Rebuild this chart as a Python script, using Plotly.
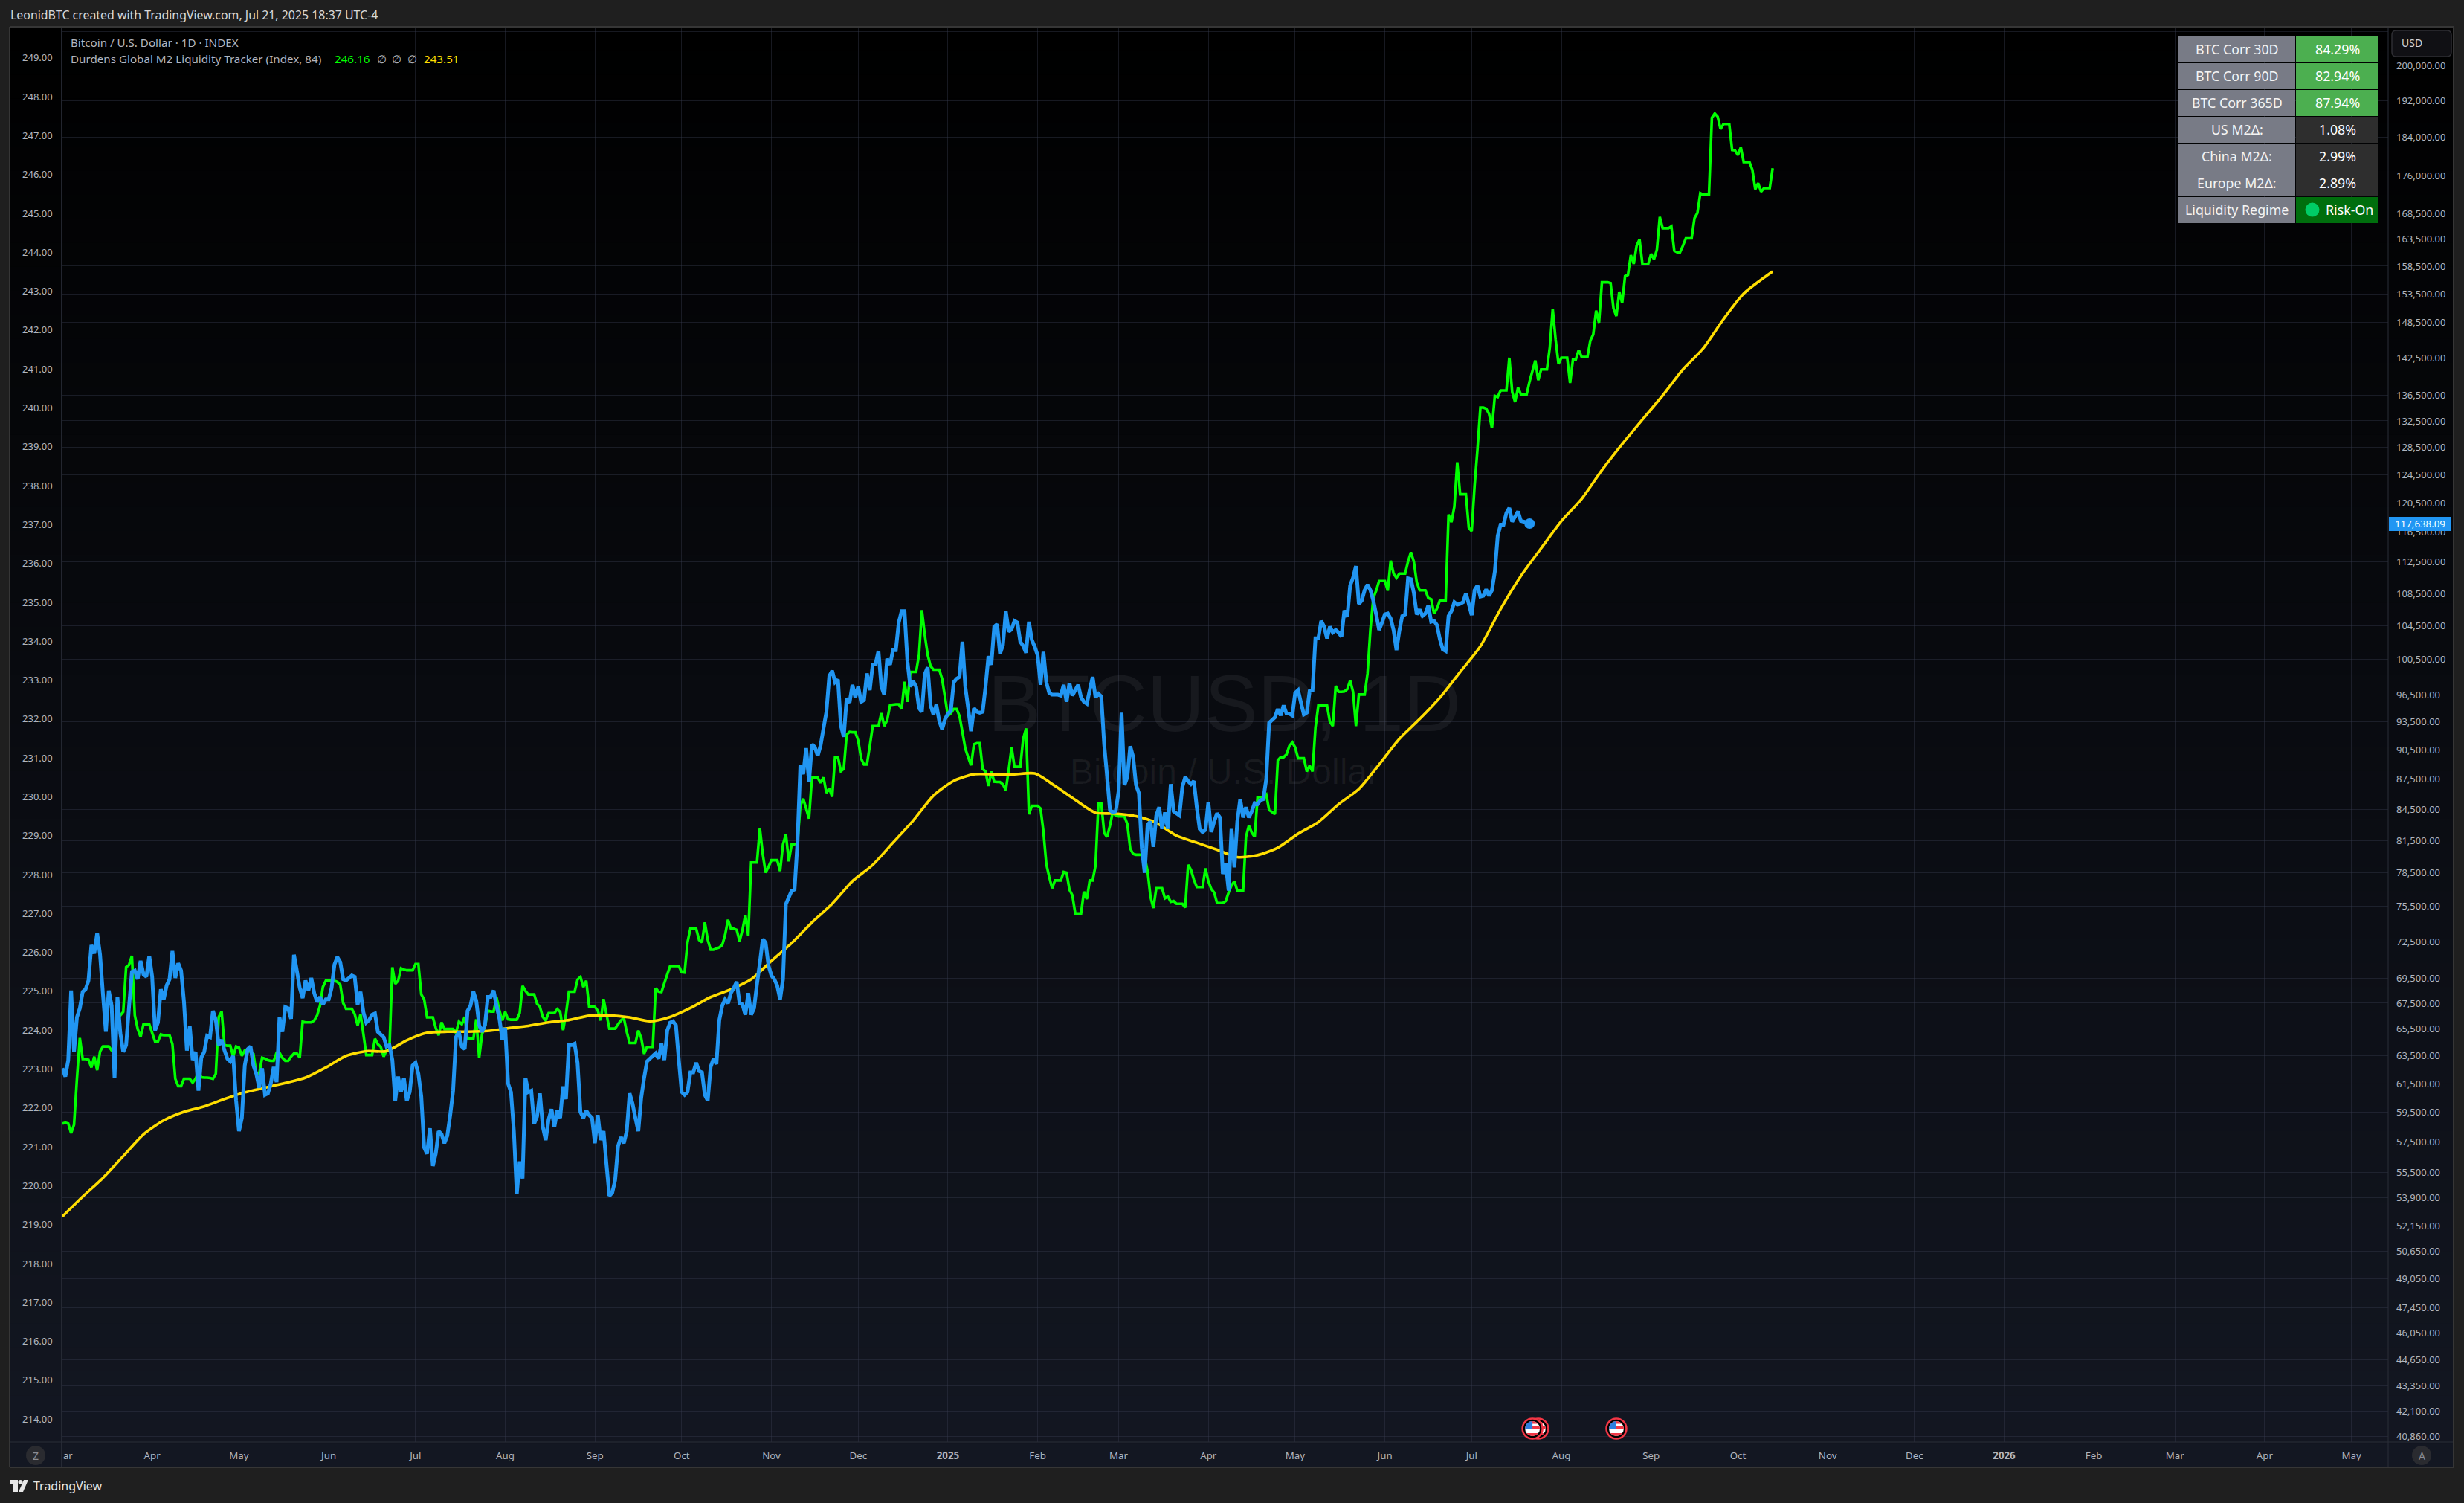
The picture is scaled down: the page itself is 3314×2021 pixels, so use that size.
import base64
import numpy as np
import pandas as pd
import plotly.graph_objects as go

W, H = 3314, 2021
FONT = "Noto Sans"

# ---------- data ----------
start_date = "2024-03-01"

btc_usd_thousands = [
 62.6,62.0,63.2,68.5,63.8,66.4,67.1,68.4,68.6,69.3,
 72.2,71.5,73.2,71.4,68.2,65.3,68.5,67.3,61.9,68.0,
 65.2,63.8,64.3,67.2,70.0,70.1,69.4,70.9,69.8,69.6,
 71.3,69.6,65.4,66.0,68.6,67.8,68.9,69.4,71.7,69.5,
 70.7,70.1,67.6,63.9,65.7,63.2,63.8,61.0,63.4,63.8,
 65.0,64.9,66.9,66.2,64.3,64.7,63.9,63.3,63.1,63.5,
 60.3,58.2,59.1,62.8,64.0,64.2,62.8,62.2,61.2,62.6,
 60.7,60.8,61.5,62.7,61.6,66.4,65.3,67.2,67.1,66.3,
 71.4,70.1,68.7,67.9,69.3,68.5,69.5,68.3,67.6,68.0,
 67.4,67.8,67.8,68.7,70.6,71.2,70.8,69.4,69.3,69.5,
 69.7,69.6,67.4,68.4,66.8,66.0,66.2,66.6,66.7,65.3,
 65.1,64.9,64.2,64.3,63.2,60.3,62.0,60.9,61.9,60.3,
 60.9,62.8,63.0,62.2,60.6,57.1,56.7,58.4,55.9,56.7,
 58.2,58.0,57.4,57.9,59.3,61.0,64.9,65.3,64.2,64.0,
 66.9,67.3,68.4,67.7,65.8,65.3,65.8,68.0,68.0,68.5,
 67.3,66.3,64.7,65.6,61.5,60.9,58.2,54.1,56.2,55.1,
 61.9,60.9,61.0,58.7,59.2,60.8,58.5,57.6,59.0,59.7,
 58.5,59.6,59.1,61.3,60.4,64.3,64.3,64.4,63.0,59.5,
 59.1,59.6,59.3,59.1,57.4,59.3,57.6,58.2,56.0,54.0,
 54.2,55.0,57.2,57.8,57.4,58.2,60.8,60.1,59.1,58.2,
 60.5,61.9,63.1,63.3,63.5,63.7,63.3,64.4,63.2,65.4,
 66.0,66.1,65.8,63.2,60.9,60.7,60.9,62.3,62.3,63.0,
 62.4,62.3,60.7,60.3,62.7,63.3,62.9,66.2,67.3,67.8,
 67.5,68.3,68.7,69.2,67.5,67.4,66.6,68.3,66.6,67.1,
 69.0,70.7,72.7,72.4,70.5,69.7,69.4,68.9,67.8,69.4,
 75.7,76.3,76.9,77.0,81.3,88.9,88.0,90.7,87.2,91.1,
 90.8,89.9,91.0,92.8,94.6,98.6,99.2,97.9,98.2,93.1,
 91.9,96.1,95.6,97.6,96.2,97.4,95.7,95.9,98.9,97.0,
 99.9,100.0,101.5,97.4,96.5,100.6,99.9,101.6,101.6,104.9,
 106.3,106.3,100.3,97.4,98.0,97.4,95.0,94.6,98.8,99.6,
 95.3,94.3,95.4,93.6,92.7,93.8,94.4,94.7,97.9,98.3,
 98.5,102.6,97.4,95.0,92.5,95.0,94.6,94.5,94.6,97.4,
 100.9,99.9,104.4,104.7,101.2,102.2,106.3,103.8,104.1,105.1,
 104.9,102.6,102.1,101.3,105.0,102.8,102.0,101.0,97.6,101.4,
 97.9,96.7,96.5,96.5,96.5,96.4,97.6,95.7,97.8,96.4,
 97.0,97.6,96.2,95.7,95.5,97.0,98.5,96.2,96.6,96.3,
 91.1,87.8,84.4,84.2,84.3,86.3,94.5,86.9,87.7,90.9,
 89.8,86.9,86.1,80.8,78.5,83.0,83.3,80.9,83.9,84.7,
 82.6,84.2,82.6,87.0,84.3,84.1,83.9,86.7,87.7,87.3,
 87.0,87.3,84.7,82.6,82.3,82.5,85.2,82.3,83.3,84.1,
 83.7,78.4,79.4,76.9,82.6,79.0,83.3,85.5,83.7,84.7,
 83.7,84.3,85.1,85.0,85.4,85.5,87.5,93.4,93.7,94.0,
 94.9,94.2,95.3,94.4,94.4,94.2,96.7,97.0,95.6,94.3,
 94.5,96.9,97.0,103.0,103.0,105.1,104.4,103.0,104.4,103.7,
 104.0,103.7,103.2,106.4,105.6,109.5,110.5,112.0,107.2,107.6,
 108.9,109.6,108.9,107.6,105.9,104.0,104.9,105.9,106.0,105.4,
 104.0,101.6,103.9,105.7,105.9,110.4,110.3,108.6,105.9,106.5,
 105.7,106.0,107.0,105.0,105.1,104.6,102.9,101.7,101.5,105.7,
 106.3,107.4,107.1,107.2,107.4,108.5,107.2,105.8,108.9,109.5,
 108.1,108.2,109.0,108.2,108.9,111.3,116.0,117.5,117.5,119.1,
 119.8,117.9,118.6,119.3,118.0,117.9,117.8,117.638,
]

m2_index = [
 221.60,221.62,221.60,221.35,221.57,222.75,223.80,223.26,223.26,223.24,
 223.04,223.32,222.97,223.45,223.58,223.58,223.58,223.48,223.48,224.34,
 224.38,224.47,225.62,225.68,225.91,224.38,224.03,223.83,224.15,224.15,
 224.15,223.93,223.71,223.71,223.89,223.87,223.87,223.87,223.64,222.75,
 222.56,222.56,222.75,222.75,222.75,222.65,222.75,222.94,222.79,222.78,
 222.78,222.77,222.75,222.88,224.34,224.48,223.61,223.60,223.60,223.32,
 223.58,223.55,223.34,223.48,223.46,223.45,223.39,222.88,222.88,223.29,
 223.27,223.23,223.21,223.21,223.42,223.42,223.29,223.21,223.21,223.32,
 223.40,223.40,223.29,224.22,224.20,224.20,224.20,224.25,224.38,224.63,
 225.11,225.27,225.27,225.27,225.27,225.24,225.17,224.70,224.55,224.55,
 224.55,224.41,224.12,224.41,223.90,223.36,223.36,223.36,223.78,223.64,
 223.57,223.32,223.48,223.52,225.62,225.19,225.27,225.59,225.56,225.54,
 225.54,225.54,225.70,225.70,224.92,224.79,224.33,224.33,224.33,224.06,
 223.87,224.20,224.03,224.03,224.03,224.03,223.93,224.22,224.15,224.34,
 223.78,223.78,223.78,224.28,223.29,223.90,224.09,224.50,224.48,224.48,
 224.85,224.50,224.25,224.47,224.28,224.27,224.27,224.27,224.44,225.14,
 225.01,224.92,224.92,224.92,224.68,224.60,224.34,224.25,224.44,224.44,
 224.44,224.54,224.47,224.00,224.41,224.99,224.99,224.99,225.30,225.37,
 225.11,225.27,224.61,224.61,224.60,224.50,224.25,224.80,224.41,224.04,
 224.04,224.04,224.15,224.25,224.31,223.96,223.67,223.67,223.67,223.99,
 223.80,223.39,223.57,223.57,223.57,225.08,224.99,224.98,225.21,225.43,
 225.65,225.65,225.65,225.65,225.49,225.48,226.26,226.61,226.61,226.61,
 226.32,226.26,226.77,226.32,226.07,226.07,226.10,226.13,226.19,226.45,
 226.84,226.61,226.61,226.58,226.29,226.58,226.96,226.42,228.31,228.31,
 228.31,229.19,228.53,228.05,228.20,228.37,228.37,228.37,228.09,228.78,
 229.04,228.34,228.78,228.78,228.82,229.77,229.95,229.70,229.44,230.50,
 230.49,230.49,230.36,230.50,230.10,230.21,230.00,231.02,231.02,230.66,
 230.72,231.60,231.67,231.66,231.66,231.45,230.98,230.83,230.83,231.31,
 231.82,231.82,231.82,232.15,231.82,231.97,232.36,232.37,232.38,232.38,
 232.26,232.96,232.44,233.21,233.21,233.21,233.65,234.80,234.16,233.65,
 233.36,233.27,233.27,233.27,233.03,232.55,232.08,232.15,232.26,232.26,
 232.08,231.67,231.24,231.02,230.81,231.35,231.38,231.38,230.72,230.65,
 230.28,230.65,230.39,230.38,230.38,230.32,230.17,230.69,231.27,230.77,
 230.77,230.77,231.49,231.76,229.55,229.77,229.77,229.77,229.70,229.11,
 228.27,227.94,227.65,227.85,227.85,227.85,228.07,228.05,227.61,227.47,
 227.00,227.00,227.00,227.56,227.37,227.85,227.85,228.23,229.83,229.83,
 229.07,228.97,229.26,229.62,229.51,229.50,229.50,229.49,229.30,228.67,
 228.53,228.51,228.51,228.51,228.45,228.09,227.43,227.14,227.65,227.65,
 227.65,227.39,227.44,227.30,227.32,227.25,227.25,227.25,227.15,228.25,
 228.12,227.87,227.68,227.68,227.68,228.16,227.83,227.63,227.54,227.27,
 227.27,227.27,227.32,227.54,227.72,227.83,227.59,227.59,227.59,228.97,
 229.26,229.08,228.97,229.99,229.99,230.00,230.06,229.66,229.61,229.55,
 230.94,231.02,231.02,231.09,231.31,231.40,231.27,230.99,230.99,230.99,
 230.65,230.80,230.65,231.78,232.35,232.35,232.35,232.35,231.93,231.82,
 232.85,232.70,232.70,232.71,232.77,232.99,232.70,231.82,232.63,232.63,
 232.63,233.17,234.31,235.11,235.30,235.55,235.55,235.55,235.30,236.07,
 235.74,235.63,235.74,235.74,235.74,236.05,236.29,236.05,235.52,235.31,
 235.31,235.31,235.11,235.08,234.71,234.84,235.05,235.05,235.05,237.26,
 237.06,237.46,238.60,237.78,237.78,237.78,236.92,236.83,238.00,238.94,
 240.01,240.01,239.98,239.85,239.48,240.31,240.28,240.45,240.45,240.45,
 241.29,240.41,240.15,240.52,240.35,240.35,240.35,240.68,240.95,241.22,
 240.71,240.99,240.99,240.99,241.56,242.54,241.76,241.13,241.29,241.29,
 241.29,240.64,241.25,241.25,241.49,241.31,241.31,241.31,241.73,241.89,
 242.50,242.19,243.23,243.23,243.23,243.21,242.56,242.36,242.99,242.70,
 243.39,243.42,243.93,243.70,244.17,244.33,243.70,243.70,243.70,243.96,
 243.82,244.07,244.91,244.62,244.62,244.62,244.67,244.04,244.00,244.00,
 244.17,244.36,244.36,244.36,244.88,245.01,245.52,245.48,245.48,245.48,
 247.46,247.57,247.49,247.17,247.30,247.30,247.30,246.63,246.62,246.50,
 246.70,246.32,246.32,246.32,246.12,245.62,245.78,245.56,245.65,245.65,
 245.65,246.16,
]

# read once a week; last reading is the final bar
m2_ma_weekly = [
 219.21,219.72,220.20,220.76,221.32,221.68,221.90,222.04,222.23,222.40,
 222.52,222.64,222.78,223.04,223.34,223.46,223.46,223.74,223.93,223.96,
 223.96,223.98,224.05,224.11,224.20,224.26,224.37,224.38,224.33,224.23,
 224.34,224.57,224.85,225.05,225.31,225.78,226.24,226.77,227.25,227.83,
 228.25,228.82,229.39,230.03,230.41,230.58,230.58,230.58,230.60,230.28,
 229.92,229.59,229.57,229.50,229.33,229.00,228.82,228.64,228.45,228.50,
 228.69,229.05,229.35,229.81,230.20,230.83,231.49,232.00,232.55,233.21,
 233.87,234.83,235.68,236.39,237.09,237.66,238.40,239.07,239.70,240.32,
 240.99,241.53,242.28,242.94,243.35,243.51,
]
m2_ma_last_date = "2025-10-13"

left_ticks = list(range(214, 250))
right_ticks = [208000, 200000, 192000, 184000, 176000, 168500, 163500, 158500, 153500, 148500,
               142500, 136500, 132500, 128500, 124500, 120500, 116500, 112500, 108500, 104500,
               100500, 96500, 93500, 90500, 87500, 84500, 81500, 78500, 75500, 72500, 69500,
               67500, 65500, 63500, 61500, 59500, 57500, 55500, 53900, 52150, 50650, 49050,
               47450, 46050, 44650, 43350, 42100, 40860]
month_ticks = ["2024-04-01", "2024-05-01", "2024-06-01", "2024-07-01", "2024-08-01", "2024-09-01",
               "2024-10-01", "2024-11-01", "2024-12-01", "2025-01-01", "2025-02-01", "2025-03-01",
               "2025-04-01", "2025-05-01", "2025-06-01", "2025-07-01", "2025-08-01", "2025-09-01",
               "2025-10-01", "2025-11-01", "2025-12-01", "2026-01-01", "2026-02-01", "2026-03-01",
               "2026-04-01", "2026-05-01"]
month_labels = ["Apr", "May", "Jun", "Jul", "Aug", "Sep", "Oct", "Nov", "Dec", "<b>2025</b>", "Feb", "Mar",
                "Apr", "May", "Jun", "Jul", "Aug", "Sep", "Oct", "Nov", "Dec", "<b>2026</b>", "Feb", "Mar",
                "Apr", "May"]

table_labels = ["BTC Corr 30D", "BTC Corr 90D", "BTC Corr 365D", "US M2Δ:", "China M2Δ:", "Europe M2Δ:", "Liquidity Regime"]
table_values = ["84.29%", "82.94%", "87.94%", "1.08%", "2.99%", "2.89%", "Risk-On"]
table_fills = ["#4caf50", "#4caf50", "#4caf50", "#2e2e2e", "#2e2e2e", "#2e2e2e", "#006e0d"]

event_dates = ["2025-07-24", "2025-07-22", "2025-08-20"]
last_price_text = "117,638.09"
watermark_date = "2025-04-06 14:00"
watermark_rows = ["BTCUSD, 1D", "Bitcoin / U.S. Dollar"]
watermark_values = [232.21, 230.56]

# ---------- helpers for page layout (pixels -> paper) ----------
def px(x): return x / W
def py(y): return 1 - y / H

L_AXIS, R_AXIS, TOP, BOTTOM, FRAME_L, FRAME_R, FRAME_B = 82.7, 3212, 36, 1939, 13, 3300, 1973

def rect(x0, y0, x1, y1, fill, line=None, layer="above", w=1):
    return dict(type="rect", xref="paper", yref="paper", x0=px(x0), x1=px(x1), y0=py(y1), y1=py(y0),
                fillcolor=fill, line=dict(color=line or "rgba(0,0,0,0)", width=w if line else 0), layer=layer)

def seg(x0, y0, x1, y1, color="#2a2e39", w=1):
    return dict(type="line", xref="paper", yref="paper", x0=px(x0), x1=px(x1), y0=py(y0), y1=py(y1),
                line=dict(color=color, width=w), layer="above")

def circ(cx, cy, r, fill):
    return dict(type="circle", xref="paper", yref="paper", x0=px(cx - r), x1=px(cx + r), y0=py(cy + r), y1=py(cy - r),
                fillcolor=fill, line=dict(width=0), layer="above")

def txt(x, y, s, color="#b2b5be", size=13, anchor="left", family=FONT):
    return dict(xref="paper", yref="paper", x=px(x), y=py(y), text=s, showarrow=False, xanchor=anchor,
                yanchor="middle", font=dict(family=family, size=size, color=color), borderpad=0)

# ---------- traces ----------
btc_dates = pd.date_range(start_date, periods=len(btc_usd_thousands), freq="D")
m2_dates = pd.date_range(start_date, periods=len(m2_index), freq="D")
ma_dates = list(pd.date_range(start_date, periods=len(m2_ma_weekly) - 1, freq="7D")) + [pd.Timestamp(m2_ma_last_date)]
btc_usd = [v * 1000 for v in btc_usd_thousands]

fig = go.Figure()
fig.add_trace(go.Scatter(x=[watermark_date] * 2, y=watermark_values, text=watermark_rows, mode="text",
                         textposition="middle center", yaxis="y",
                         textfont=dict(family="Liberation Sans", size=[107, 48], color="rgba(255,255,255,0.06)")))
fig.add_trace(go.Scatter(x=m2_dates, y=m2_index, mode="lines", yaxis="y",
                         line=dict(color="#00ff00", width=3.6, simplify=False)))
fig.add_trace(go.Scatter(x=ma_dates, y=m2_ma_weekly, mode="lines", yaxis="y",
                         line=dict(color="#ffdd00", width=3.6, shape="spline", smoothing=0.7, simplify=False)))
fig.add_trace(go.Scatter(x=btc_dates, y=btc_usd, mode="lines", yaxis="y2",
                         line=dict(color="#2196f3", width=5, simplify=False)))
fig.add_trace(go.Scatter(x=[btc_dates[-1]], y=[btc_usd[-1]], mode="markers", yaxis="y2",
                         marker=dict(color="#2196f3", size=14, line=dict(width=0))))

# ---------- background ----------
shapes = []
bands = 60
for i in range(bands):
    t = (i + 0.5) / bands
    c = "rgb(%d,%d,%d)" % (round(0x13 * t), round(0x17 * t), round(0x22 * t))
    y0 = TOP + (FRAME_B - TOP) * i / bands
    y1 = TOP + (FRAME_B - TOP) * (i + 1) / bands + 0.5
    shapes.append(rect(FRAME_L, y0, FRAME_R, y1, c, layer="below"))

# frame and axis separators
shapes += [
    seg(L_AXIS, TOP, L_AXIS, FRAME_B), seg(R_AXIS, TOP, R_AXIS, FRAME_B),
    seg(FRAME_L, BOTTOM, FRAME_R, BOTTOM),
    seg(FRAME_L, TOP, FRAME_R, TOP, "#363636", 2), seg(FRAME_L, FRAME_B, FRAME_R, FRAME_B, "#363636", 2),
    seg(FRAME_L, TOP, FRAME_L, FRAME_B, "#363636", 2), seg(FRAME_R, TOP, FRAME_R, FRAME_B, "#363636", 2),
]

annotations = [
    txt(13, 20, "LeonidBTC created with TradingView.com, Jul 21, 2025 18:37 UTC-4", "#d8d8d8", 15.9),
    txt(94, 57, "Bitcoin / U.S. Dollar · 1D · INDEX", "#b2b5be", 15.2),
    txt(94, 79, "Durdens Global M2 Liquidity Tracker (Index, 84)", "#b2b5be", 15.2),
    txt(449, 79, "246.16", "#00ff00", 15.2),
    txt(513, 79, "∅", "#b2b5be", 15.2, "center"),
    txt(533, 79, "∅", "#b2b5be", 15.2, "center"),
    txt(554, 79, "∅", "#b2b5be", 15.2, "center"),
    txt(569, 79, "243.51", "#ffdd00", 15.2),
    txt(84, 1957, "ar", "#b2b5be", 13),
    txt(48, 1957, "Z", "#8a8d96", 14, "center"),
    txt(3257, 1957, "A", "#8a8d96", 14, "center"),
    txt(44, 1998, "TradingView", "#e6e6e6", 16),
]
shapes += [circ(48, 1957, 13, "#2a2b30"), circ(3257, 1957, 13, "#2a2b30")]

# table
row_top, row_h = 49, 36
for i, (a, b, f) in enumerate(zip(table_labels, table_values, table_fills)):
    y0 = row_top + i * row_h
    shapes.append(rect(2930, y0, 3087, y0 + row_h - 1, "#787b86"))
    shapes.append(rect(3088, y0, 3199, y0 + row_h - 1, f))
    annotations.append(txt(3008.5, y0 + 17, a, "#f4f4f4", 17.8, "center"))
    if b == "Risk-On":
        shapes.append(circ(3110, y0 + 17, 9.5, "#00cc66"))
        annotations.append(txt(3160, y0 + 17, b, "#ffffff", 17.8, "center"))
    else:
        annotations.append(txt(3143.5, y0 + 17, b, "#ffffff", 17.8, "center"))

# USD button
r = 6
x0, x1, y0, y1 = px(3217), px(3297), py(76), py(41)
rx, ry = r / W, r / H
shapes.append(dict(type="path", xref="paper", yref="paper", layer="above", fillcolor="#101014",
                   line=dict(color="#2e2e33", width=1.5),
                   path=f"M {x0+rx},{y0} L {x1-rx},{y0} Q {x1},{y0} {x1},{y0+ry} L {x1},{y1-ry} Q {x1},{y1} {x1-rx},{y1} "
                        f"L {x0+rx},{y1} Q {x0},{y1} {x0},{y1-ry} L {x0},{y0+ry} Q {x0},{y0} {x0+rx},{y0} Z"))
annotations.append(txt(3229, 58, "USD", "#d1d4dc", 14))

# last price tag
shapes.append(rect(3213, 695, 3296, 714, "#2196f3"))
annotations.append(txt(3254.5, 704, last_price_text, "#ffffff", 13.3, "center"))

# TradingView logo mark
lx, ly = 13, 1990
def P(x, y): return f"{px(lx + x)},{py(ly + y)}"
shapes.append(dict(type="path", xref="paper", yref="paper", layer="above", fillcolor="#e6e6e6", line=dict(width=0),
                   path=f"M {P(0,0)} L {P(11,0)} L {P(11,16)} L {P(5,16)} L {P(5,6)} L {P(0,6)} Z "
                        f"M {P(19,0)} L {P(25,0)} L {P(18,16)} L {P(12,16)} Z"))
shapes.append(circ(lx + 14.5, ly + 3, 3, "#e6e6e6"))

# economic-event flag icons
flag_svg = ('<svg xmlns="http://www.w3.org/2000/svg" viewBox="0 0 30 30"><defs><clipPath id="c"><circle cx="15" cy="15" r="10"/></clipPath></defs>'
            '<circle cx="15" cy="15" r="13.5" fill="#000" stroke="#f23645" stroke-width="2.5"/>'
            '<g clip-path="url(#c)"><rect x="0" y="0" width="30" height="30" fill="#fff"/>'
            '<rect x="0" y="5" width="30" height="3.5" fill="#f23645"/><rect x="0" y="12" width="30" height="3.5" fill="#f23645"/>'
            '<rect x="0" y="21" width="30" height="5" fill="#f23645"/><rect x="0" y="0" width="15" height="16" fill="#2d7fe0"/></g></svg>')
flag_src = "data:image/svg+xml;base64," + base64.b64encode(flag_svg.encode()).decode()
images = [dict(source=flag_src, xref="x", yref="paper", x=d, y=py(1921), sizex=30 * 86400000 / 3.892, sizey=30 / H,
               xanchor="center", yanchor="middle", sizing="stretch", layer="above") for d in event_dates]

# ---------- layout ----------
GRID = "rgba(54,60,78,0.42)"
TICK = "#b2b5be"
fig.update_layout(
    width=W, height=H, autosize=False, margin=dict(l=0, r=0, t=0, b=0, pad=0),
    paper_bgcolor="#1f1f1f", plot_bgcolor="rgba(0,0,0,0)", showlegend=False, hovermode=False,
    shapes=shapes, annotations=annotations, images=images,
    font=dict(family=FONT, size=13, color=TICK),
    xaxis=dict(domain=[px(L_AXIS), px(R_AXIS)], type="date",
               range=["2024-02-29 16:00", "2026-05-13 17:00"],
               tickmode="array", tickvals=month_ticks, ticktext=month_labels, tickangle=0,
               showgrid=True, gridcolor=GRID, gridwidth=1, zeroline=False, showline=False, ticks="",
               ticklabelstandoff=9, tickfont=dict(family=FONT, size=13.3, color=TICK), automargin=False),
    yaxis=dict(domain=[py(BOTTOM), py(TOP)], range=[213.41, 249.80], side="left", anchor="x",
               tickmode="array", tickvals=left_ticks, ticktext=[f"{v:.2f}" for v in left_ticks],
               showgrid=False, zeroline=False, showline=False, ticks="", ticklabelstandoff=11,
               tickfont=dict(family=FONT, size=13, color=TICK), automargin=False),
    yaxis2=dict(domain=[py(BOTTOM), py(TOP)], type="log", range=[np.log10(40604), np.log10(209160)],
                overlaying="y", side="right", anchor="x",
                tickmode="array", tickvals=right_ticks,
                ticktext=["" if v == 208000 else f"{v:,.2f}" for v in right_ticks],
                showgrid=True, gridcolor=GRID, gridwidth=1, zeroline=False, showline=False, ticks="",
                ticklabelstandoff=10, tickfont=dict(family=FONT, size=13, color=TICK), automargin=False),
)

fig.write_html("out.html", config={"displayModeBar": False, "responsive": False},
               post_script="document.body.style.margin='0';document.body.style.overflow='hidden';")
